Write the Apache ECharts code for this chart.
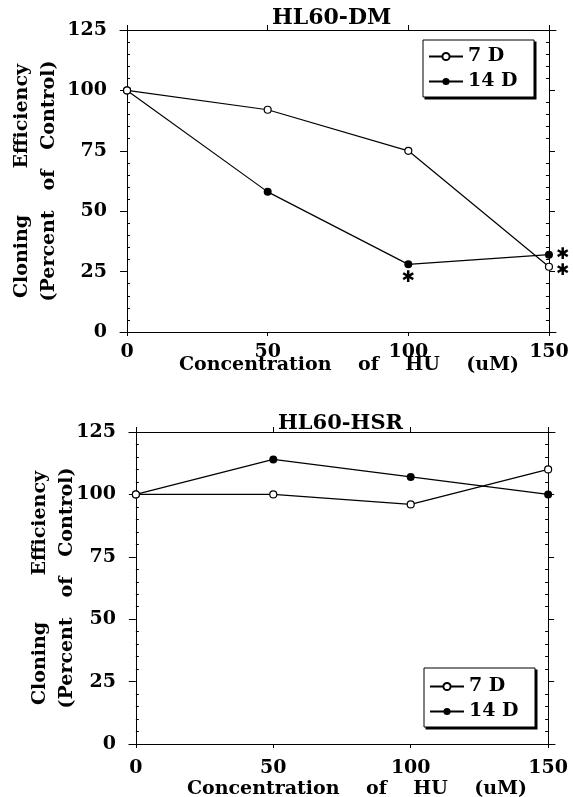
<!DOCTYPE html>
<html>
<head>
<meta charset="utf-8">
<script src="https://cdn.jsdelivr.net/npm/echarts@6/dist/echarts.min.js"></script>
<style>
    html, body { margin: 0; padding: 0; background: #fff; }
    #main { width: 573px; height: 797px; }
</style>
</head>
<body>
<div id="main"></div>
<script>
    // HU dose (uM)
    var doses = [0, 50, 100, 150];
    var xTicks = [0, 50, 100, 150];
    // HL60-DM, cloning efficiency (% of control)
    var dm7 = [100, 92, 75, 27];
    var dm14 = [100, 58, 28, 32];
    // HL60-HSR
    var hsr7 = [100, 100, 96, 110];
    var hsr14 = [100, 114, 107, 100];
    // points marked with *
    var dm7Star = [0, 0, 0, 1];
    var dm14Star = [0, 0, 1, 1];
    var hsrStar = [0, 0, 0, 0];
    var seriesNames = ['7 D', '14 D'];

    var FONT = 'DejaVu Serif';
    var XMIN = -2.5, XMAX = 152.5;
    var lbl = { fontFamily: FONT, fontWeight: 'bold', fontSize: 19, color: '#000' };
    var black = { color: '#000', width: 1 };

    function ext(a, b) { return Object.assign({}, a, b); }

    function xAxes(gi, nameGap, labelMargin, namePad) {
        return [{
            type: 'value', gridIndex: gi, position: 'bottom', min: XMIN, max: XMAX,
            axisLine: { onZero: false, lineStyle: black },
            axisTick: { customValues: xTicks, length: 4, lineStyle: black },
            axisLabel: ext(lbl, { customValues: xTicks, margin: labelMargin }),
            splitLine: { show: false },
            name: 'Concentration    of    HU    (uM)', nameLocation: 'middle', nameGap: nameGap,
            nameMoveOverlap: false,
            nameTextStyle: ext(lbl, { padding: namePad })
        }, {
            type: 'value', gridIndex: gi, position: 'top', min: XMIN, max: XMAX,
            axisLine: { onZero: false, lineStyle: black },
            axisTick: { customValues: xTicks, length: 5, lineStyle: black },
            axisLabel: { show: false },
            splitLine: { show: false }
        }];
    }

    function yAxes(gi, offset, nameGap) {
        var base = { type: 'value', gridIndex: gi, min: 0, max: 125, interval: 25, splitLine: { show: false } };
        var minor = { show: true, splitNumber: 5, length: 3, lineStyle: black };
        return [
            ext(base, {
                position: 'left',
                axisLine: { onZero: true, lineStyle: black },
                axisTick: { length: 7, lineStyle: black },
                axisLabel: ext(lbl, { margin: 13 }),
                name: 'Cloning       Efficiency\n(Percent   of   Control)',
                nameLocation: 'middle', nameRotate: 90, nameGap: nameGap,
                nameMoveOverlap: false,
                nameTextStyle: ext(lbl, { lineHeight: 27 })
            }),
            ext(base, {
                position: 'left',
                axisLine: { show: false, onZero: true },
                axisTick: { show: false, inside: true },
                axisLabel: { show: false },
                minorTick: minor
            }),
            ext(base, {
                position: 'right', offset: offset,
                axisLine: { onZero: false, lineStyle: black },
                axisTick: { length: 6, lineStyle: black },
                axisLabel: { show: false }
            }),
            ext(base, {
                position: 'right', offset: offset,
                axisLine: { show: false, onZero: false },
                axisTick: { show: false, inside: true },
                axisLabel: { show: false },
                minorTick: minor
            })
        ];
    }

    function starLabel(i, last) {
        return {
            show: true, formatter: '\u2731',
            position: i === last ? 'right' : 'bottom',
            distance: i === last ? 3 : 1,
            fontFamily: 'DejaVu Sans', fontSize: 16, color: '#000'
        };
    }

    function mkSeries(name, xi, yi, vals, stars, open, starOffset) {
        return {
            name: name, type: 'line', xAxisIndex: xi, yAxisIndex: yi,
            data: doses.map(function (d, i) {
                var item = { value: [d, vals[i]] };
                if (stars[i]) {
                    item.label = starLabel(i, doses.length - 1);
                    if (starOffset) item.label.offset = starOffset;
                }
                return item;
            }),
            symbol: 'circle', symbolSize: open ? 7 : 8,
            lineStyle: { color: '#000', width: 1.2 },
            itemStyle: open ? { color: '#fff', borderColor: '#000', borderWidth: 1.2 } : { color: '#000' },
            label: { show: false },
            emphasis: { disabled: true },
            clip: false,
            z: open ? 3 : 2
        };
    }

    function legend(left, top) {
        return {
            left: left, top: top, orient: 'vertical', z: 6,
            itemWidth: 34, itemHeight: 9, itemGap: 4,
            padding: [6, 14, 9, 6],
            borderWidth: 0, backgroundColor: 'transparent',
            textStyle: ext(lbl, { lineHeight: 21 }),
            selectedMode: false,
            data: seriesNames
        };
    }

    // legend frame with a hard drop shadow
    function legendBox(x, y, w, h) {
        return [
            { type: 'rect', left: x + 2, top: y + 2, z: 5, shape: { width: w + 1, height: h + 1 }, style: { fill: '#000' } },
            { type: 'rect', left: x, top: y, z: 5, shape: { width: w, height: h }, style: { fill: '#fff', stroke: '#000', lineWidth: 1 } }
        ];
    }

    var g0 = { left: 120, top: 30, width: 436, height: 302 };
    var g1 = { left: 129, top: 432, width: 426, height: 312 };

    var chart = echarts.init(document.getElementById('main'), null, { renderer: 'canvas' });
    chart.setOption({
        animation: false,
        backgroundColor: '#fff',
        title: [
            { text: 'HL60-DM', left: 272, top: 7, padding: 0, textStyle: ext(lbl, { fontSize: 22 }) },
            { text: 'HL60-HSR', left: 278, top: 413, padding: 0, textStyle: ext(lbl, { fontSize: 21 }) }
        ],
        grid: [
            ext(g0, { outerBoundsMode: 'none', containLabel: false }),
            ext(g1, { outerBoundsMode: 'none', containLabel: false })
        ],
        graphic: legendBox(422.5, 39.5, 111, 57).concat(legendBox(423.5, 667.5, 111, 59)),
        legend: [legend(422, 40), legend(423, 670)],
        xAxis: xAxes(0, 24, 11, [0, 0, 0, 22]).concat(xAxes(1, 36, 15, [0, 0, 0, 30])),
        yAxis: yAxes(0, -g0.width * 2.5 / 155, 57).concat(yAxes(1, -g1.width * 2.5 / 155, 48)),
        series: [
            mkSeries(seriesNames[0], 0, 0, dm7, dm7Star, true, [0, 4]),
            mkSeries(seriesNames[1], 0, 0, dm14, dm14Star, false),
            mkSeries(seriesNames[0], 2, 4, hsr7, hsrStar, true),
            mkSeries(seriesNames[1], 2, 4, hsr14, hsrStar, false)
        ]
    });
</script>
</body>
</html>
